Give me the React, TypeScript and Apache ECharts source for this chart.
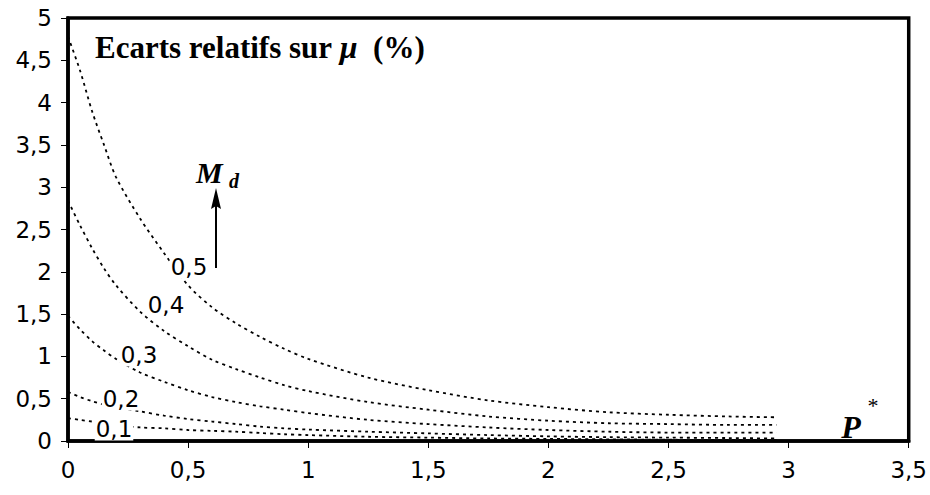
import React, { useEffect, useRef } from "react";
import * as echarts from "echarts";

// P* values (x)
const pStar = [0, 0.05, 0.1, 0.15, 0.2, 0.3, 0.4, 0.5, 0.6, 0.7, 0.8, 0.9, 1.0, 1.25, 1.5, 1.75, 2.0, 2.25, 2.5, 2.75, 2.95];

// Ecarts relatifs sur mu (%) for each Md
const md05 = [4.78, 4.38, 3.9, 3.5, 3.12, 2.63, 2.22, 1.84, 1.58, 1.39, 1.23, 1.09, 0.97, 0.75, 0.6, 0.48, 0.4, 0.34, 0.31, 0.29, 0.28];
const md04 = [2.84, 2.55, 2.28, 2.04, 1.84, 1.53, 1.3, 1.12, 0.96, 0.85, 0.75, 0.66, 0.59, 0.46, 0.37, 0.29, 0.24, 0.21, 0.2, 0.19, 0.19];
const md03 = [1.48, 1.32, 1.18, 1.07, 0.97, 0.81, 0.7, 0.6, 0.52, 0.46, 0.41, 0.37, 0.33, 0.25, 0.2, 0.16, 0.13, 0.11, 0.1, 0.1, 0.1];
const md02 = [0.58, 0.52, 0.47, 0.43, 0.4, 0.35, 0.3, 0.26, 0.23, 0.2, 0.17, 0.15, 0.135, 0.11, 0.09, 0.07, 0.055, 0.045, 0.04, 0.035, 0.03];
const md01 = [0.27, 0.25, 0.23, 0.21, 0.19, 0.16, 0.15, 0.13, 0.12, 0.11, 0.095, 0.08, 0.07, 0.05, 0.04, 0.03, 0.025, 0.02, 0.015, 0.012, 0.01];

const seriesNames = ["0,5", "0,4", "0,3", "0,2", "0,1"];
const seriesValues = [md05, md04, md03, md02, md01];

const fmt = (v: number) => String(v).replace(".", ",");
const SANS = "DejaVu Sans, Liberation Sans, Arial, sans-serif";
const SERIF = "Liberation Serif, Times New Roman, serif";

export default function App() {
  const ref = useRef<HTMLDivElement>(null);
  useEffect(() => {
    document.body.style.margin = "0";
    const chart = echarts.init(ref.current!, null, { renderer: "svg" });
    const labelStyle = (text: string) => ({
      text,
      fontFamily: SANS,
      fontSize: 23,
      fill: "#000",
      backgroundColor: "#fff",
      padding: [0, 1, 0, 1],
      align: "center",
      verticalAlign: "middle",
    });
    chart.setOption({
      animation: false,
      grid: {
        left: 68,
        right: 20,
        top: 18,
        bottom: 54,
        show: true,
        borderColor: "#000",
        borderWidth: 3.5,
        backgroundColor: "#fff",
      },
      xAxis: {
        type: "value",
        min: 0,
        max: 3.5,
        interval: 0.5,
        splitLine: { show: false },
        axisLine: { show: true, onZero: false, lineStyle: { color: "#000", width: 3.5 } },
        axisTick: { show: true, inside: false, length: 7, lineStyle: { color: "#000", width: 1 } },
        axisLabel: {
          formatter: fmt,
          color: "#000",
          fontSize: 23,
          fontFamily: SANS,
          margin: 17,
        },
      },
      yAxis: {
        type: "value",
        min: 0,
        max: 5,
        interval: 0.5,
        splitLine: { show: false },
        axisLine: { show: true, onZero: false, lineStyle: { color: "#000", width: 3.5 } },
        axisTick: { show: true, inside: false, length: 7, lineStyle: { color: "#000", width: 1 } },
        axisLabel: {
          formatter: fmt,
          color: "#000",
          fontSize: 23,
          fontFamily: SANS,
          margin: 16,
        },
      },
      series: seriesValues.map((vals, k) => ({
        name: seriesNames[k],
        type: "line",
        smooth: 0.3,
        showSymbol: false,
        silent: true,
        lineStyle: { color: "#000", width: 1.8, type: [3, 4] },
        data: pStar.map((p, i) => [p, vals[i]]),
      })),
      graphic: [
        {
          type: "text",
          x: 95,
          y: 47,
          z: 100,
          style: {
            text: "{a|Ecarts relatifs sur }{b|μ}{a|  (%)}",
            verticalAlign: "middle",
            rich: {
              a: { fontFamily: SERIF, fontWeight: "bold", fontSize: 31, fill: "#000" },
              b: { fontFamily: SERIF, fontWeight: "bold", fontStyle: "italic", fontSize: 32, fill: "#000" },
            },
          },
        },
        { type: "text", x: 189, y: 267, z: 100, style: labelStyle("0,5") },
        { type: "text", x: 166, y: 305, z: 100, style: labelStyle("0,4") },
        { type: "text", x: 139, y: 355, z: 100, style: labelStyle("0,3") },
        { type: "text", x: 121, y: 399, z: 100, style: labelStyle("0,2") },
        { type: "text", x: 114, y: 429, z: 100, style: labelStyle("0,1") },
        {
          type: "text",
          x: 196,
          y: 172,
          z: 100,
          style: {
            text: "M",
            fontFamily: SERIF,
            fontWeight: "bold",
            fontStyle: "italic",
            fontSize: 30,
            fill: "#000",
            verticalAlign: "middle",
          },
        },
        {
          type: "text",
          x: 229,
          y: 181,
          z: 100,
          style: {
            text: "d",
            fontFamily: SERIF,
            fontWeight: "bold",
            fontStyle: "italic",
            fontSize: 20,
            fill: "#000",
            verticalAlign: "middle",
          },
        },
        {
          type: "line",
          z: 100,
          shape: { x1: 216, y1: 268, x2: 216, y2: 200 },
          style: { stroke: "#000", lineWidth: 2 },
        },
        {
          type: "polygon",
          z: 100,
          shape: { points: [[216, 188], [211, 209], [216, 206], [221, 209]] },
          style: { fill: "#000" },
        },
        {
          type: "text",
          x: 851,
          y: 427,
          z: 100,
          style: {
            text: "P",
            fontFamily: SERIF,
            fontWeight: "bold",
            fontStyle: "italic",
            fontSize: 32,
            fill: "#000",
            align: "center",
            verticalAlign: "middle",
          },
        },
        {
          type: "text",
          x: 873,
          y: 405,
          z: 100,
          style: {
            text: "*",
            fontFamily: SERIF,
            fontSize: 22,
            fill: "#000",
            align: "center",
            verticalAlign: "middle",
          },
        },
      ],
    });
    return () => chart.dispose();
  }, []);
  return <div ref={ref} style={{ width: 930, height: 495 }} />;
}
